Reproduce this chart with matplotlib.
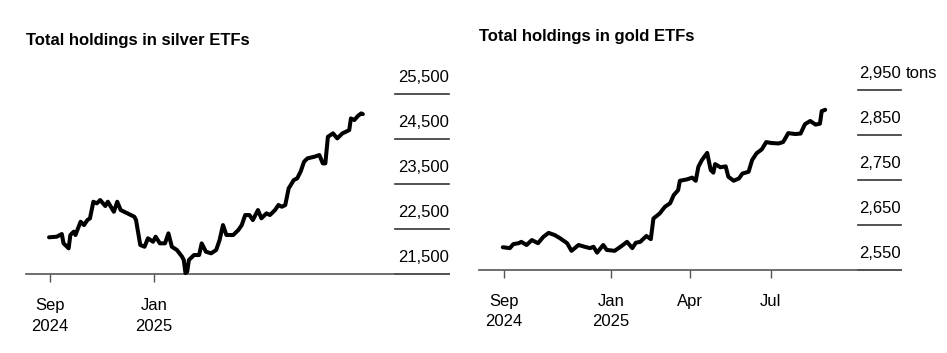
import matplotlib
matplotlib.use("Agg")
import matplotlib.pyplot as plt
import pandas as pd

plt.rcParams['font.family'] = ['Liberation Sans', 'DejaVu Sans']

# silver ETF holdings (tons)
silver_dates = ["2024-08-31", "2024-09-09", "2024-09-15", "2024-09-17", "2024-09-23", "2024-09-25",
                "2024-09-29", "2024-10-01", "2024-10-07", "2024-10-11", "2024-10-15", "2024-10-18",
                "2024-10-22", "2024-10-26", "2024-10-30", "2024-11-05", "2024-11-08", "2024-11-15",
                "2024-11-19", "2024-11-23", "2024-12-05", "2024-12-09", "2024-12-11", "2024-12-16",
                "2024-12-21", "2024-12-25", "2024-12-31", "2025-01-03", "2025-01-08", "2025-01-14",
                "2025-01-18", "2025-01-22", "2025-01-28", "2025-02-03", "2025-02-05", "2025-02-07",
                "2025-02-09", "2025-02-11", "2025-02-17", "2025-02-23", "2025-02-26", "2025-03-03",
                "2025-03-09", "2025-03-15", "2025-03-19", "2025-03-23", "2025-03-27", "2025-04-04",
                "2025-04-10", "2025-04-14", "2025-04-18", "2025-04-23", "2025-04-27", "2025-05-03",
                "2025-05-07", "2025-05-13", "2025-05-17", "2025-05-23", "2025-05-27", "2025-05-31",
                "2025-06-04", "2025-06-08", "2025-06-14", "2025-06-18", "2025-06-22", "2025-06-26",
                "2025-06-30", "2025-07-08", "2025-07-14", "2025-07-18", "2025-07-21", "2025-07-24",
                "2025-07-30", "2025-08-04", "2025-08-10", "2025-08-14", "2025-08-18", "2025-08-20",
                "2025-08-24", "2025-08-28", "2025-09-01", "2025-09-03"]
silver_tons = [22314, 22327, 22387, 22180, 22070, 22365, 22440, 22365, 22660, 22586, 22697, 22735,
               23103, 23067, 23140, 23008, 23103, 22881, 23103, 22919, 22808, 22771, 22697, 22143,
               22105, 22292, 22216, 22327, 22180, 22180, 22402, 22105, 22032, 21884, 21810, 21520,
               21551, 21810, 21921, 21921, 22180, 21994, 21959, 22032, 22254, 22586, 22365, 22365,
               22476, 22586, 22808, 22808, 22697, 22919, 22735, 22846, 22808, 22919, 23030, 22992,
               23030, 23400, 23584, 23622, 23770, 23990, 24065, 24101, 24139, 23954, 23954, 24544,
               24620, 24509, 24620, 24655, 24693, 24952, 24915, 25003, 25063, 25047]

# gold ETF holdings (tons)
gold_dates = ["2024-08-31", "2024-09-08", "2024-09-12", "2024-09-18", "2024-09-21", "2024-09-27",
              "2024-10-03", "2024-10-10", "2024-10-16", "2024-10-22", "2024-10-29", "2024-11-04",
              "2024-11-12", "2024-11-17", "2024-11-25", "2024-12-02", "2024-12-08", "2024-12-12",
              "2024-12-16", "2024-12-23", "2024-12-27", "2025-01-05", "2025-01-13", "2025-01-19",
              "2025-01-25", "2025-01-29", "2025-02-03", "2025-02-10", "2025-02-15", "2025-02-18",
              "2025-02-25", "2025-03-03", "2025-03-09", "2025-03-13", "2025-03-18", "2025-03-20",
              "2025-03-28", "2025-04-03", "2025-04-07", "2025-04-10", "2025-04-14", "2025-04-20",
              "2025-04-24", "2025-04-27", "2025-04-29", "2025-05-05", "2025-05-11", "2025-05-14",
              "2025-05-20", "2025-05-26", "2025-05-30", "2025-06-06", "2025-06-10", "2025-06-15",
              "2025-06-21", "2025-06-26", "2025-07-02", "2025-07-10", "2025-07-15", "2025-07-17",
              "2025-07-21", "2025-07-29", "2025-08-04", "2025-08-09", "2025-08-15", "2025-08-21",
              "2025-08-26", "2025-08-28", "2025-09-01"]
gold_tons = [2600, 2598, 2607, 2609, 2612, 2605, 2616, 2609, 2623, 2632, 2627, 2620,
             2609, 2592, 2605, 2601, 2598, 2601, 2588, 2605, 2594, 2592, 2603, 2612,
             2598, 2610, 2612, 2625, 2618, 2664, 2675, 2690, 2698, 2716, 2727, 2748,
             2751, 2755, 2748, 2779, 2794, 2810, 2772, 2766, 2785, 2778, 2780, 2757,
             2748, 2753, 2764, 2768, 2794, 2809, 2818, 2834, 2832, 2831, 2834, 2840,
             2854, 2852, 2853, 2874, 2881, 2873, 2875, 2903, 2906]

silver_yticks = [21500, 22500, 23500, 24500, 25500]
gold_yticks = [2550, 2650, 2750, 2850, 2950]
silver_xticks = ["2024-09-01", "2025-01-01"]
silver_xlabels = ["Sep\n2024", "Jan\n2025"]
gold_xticks = ["2024-09-01", "2025-01-01", "2025-04-01", "2025-07-01"]
gold_xlabels = ["Sep\n2024", "Jan\n2025", "Apr", "Jul"]

W, H = 947, 353
fig = plt.figure(figsize=(W / 100, H / 100), dpi=100)


def draw_panel(rect, dates, vals, yticks, xticks, xlabels, xlim, grid_start, title, title_y, unit=None):
    ax = fig.add_axes([rect[0] / W, 1 - rect[3] / H, (rect[2] - rect[0]) / W, (rect[3] - rect[1]) / H])
    ax.plot(pd.to_datetime(dates), vals, color="black", lw=2.9, solid_joinstyle="round",
            solid_capstyle="round", clip_on=False, zorder=3)
    ax.set_xlim(pd.Timestamp(xlim[0]), pd.Timestamp(xlim[1]))
    ax.set_ylim(yticks[0], yticks[-1])

    for s in ["top", "right", "left"]:
        ax.spines[s].set_visible(False)
    ax.spines["bottom"].set_color("#555555")
    ax.spines["bottom"].set_linewidth(1.2)
    ax.set_yticks([])
    ax.set_xticks(pd.to_datetime(xticks))
    ax.set_xticklabels(xlabels, fontsize=12, linespacing=1.45)
    ax.tick_params(axis="x", length=6, width=1, color="#555555", pad=11.5)

    # short gridlines with labels on top, at the right end
    for v in yticks:
        ax.plot([grid_start, 1.0], [v, v], transform=ax.get_yaxis_transform(), color="#333333",
                lw=1.2, clip_on=False, zorder=2)
        ax.annotate(f"{v:,}", xy=(1.0, v), xycoords=("axes fraction", "data"), xytext=(0, 8.5),
                    textcoords="offset points", ha="right", va="baseline", fontsize=12)
    if unit:
        ax.annotate(unit, xy=(1.0, yticks[-1]), xycoords=("axes fraction", "data"), xytext=(3.5, 8.5),
                    textcoords="offset points", ha="left", va="baseline", fontsize=12)

    fig.text(rect[0] / W, 1 - title_y / H, title, fontsize=12, fontweight="bold", ha="left", va="center")
    return ax


draw_panel((26, 93.7, 449, 274), silver_dates, silver_tons, silver_yticks, silver_xticks, silver_xlabels,
           ("2024-08-04", "2025-12-13"), 0.872, "Total holdings in silver ETFs", 40)
draw_panel((479, 90, 901, 269.7), gold_dates, gold_tons, gold_yticks, gold_xticks, gold_xlabels,
           ("2024-08-04", "2025-11-26"), 0.898, "Total holdings in gold ETFs", 37, unit="tons")

fig.savefig("out.png", dpi=100, facecolor="white")
